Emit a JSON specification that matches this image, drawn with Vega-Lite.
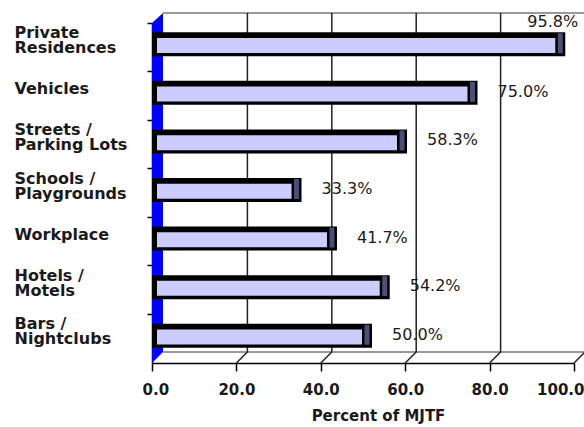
{
  "$schema": "https://vega.github.io/schema/vega-lite/v6.json",
  "width": 432,
  "height": 350,
  "autosize": "none",
  "padding": {"left": 152, "top": 13, "right": 0, "bottom": 64},
  "background": "white",
  "config": {
    "view": {"stroke": null},
    "font": "DejaVu Sans",
    "axisX": {
      "format": ".1f",
      "grid": false,
      "labelFont": "DejaVu Sans",
      "labelFontWeight": "bold",
      "labelFontSize": 15,
      "labelColor": "#1a1a1a",
      "labelPadding": 11,
      "labelFlush": true,
      "labelFlushOffset": 10,
      "tickSize": 8,
      "tickColor": "#000",
      "tickWidth": 1.5,
      "domainColor": "#000",
      "domainWidth": 1.5,
      "titleFont": "DejaVu Sans",
      "titleFontWeight": "bold",
      "titleFontSize": 15,
      "titleColor": "#1a1a1a",
      "titleX": 226,
      "titleY": 52,
      "titleBaseline": "middle",
      "zindex": 1
    },
    "axisY": {
      "title": null,
      "labelAlign": "left",
      "labelBaseline": "middle",
      "labelPadding": 133,
      "labelLimit": 0,
      "tickSize": 5,
      "tickColor": "#000",
      "tickWidth": 1.5,
      "domainColor": "#000",
      "domainWidth": 1.5,
      "bandPosition": 0,
      "labelFont": "DejaVu Sans",
      "labelFontWeight": "bold",
      "labelFontSize": 16,
      "labelLineHeight": 15,
      "labelColor": "#1a1a1a",
      "zindex": 1
    }
  },
  "datasets": {
    "bars": [
      {"place": "Private Residences", "value": 95.8, "label": "95.8%"},
      {"place": "Vehicles", "value": 75.0, "label": "75.0%"},
      {"place": "Streets / Parking Lots", "value": 58.3, "label": "58.3%"},
      {"place": "Schools / Playgrounds", "value": 33.3, "label": "33.3%"},
      {"place": "Workplace", "value": 41.7, "label": "41.7%"},
      {"place": "Hotels / Motels", "value": 54.2, "label": "54.2%"},
      {"place": "Bars / Nightclubs", "value": 50.0, "label": "50.0%"}
    ],
    "grid": [{"v": 0}, {"v": 20}, {"v": 40}, {"v": 60}, {"v": 80}, {"v": 100}]
  },
  "layer": [
    {
      "data": {"name": "grid"},
      "transform": [{"filter": "datum.v == 0"}],
      "mark": {"type": "point", "shape": "M0.0629,-1L2.5,-1M0.0629,0.9371L2.5,0.9371", "size": 122500, "filled": false, "color": "#999999", "strokeWidth": 2, "opacity": 1},
      "encoding": {"x": {"field": "v", "type": "quantitative", "title": "Percent of MJTF", "scale": {"domain": [0, 100], "range": [0, 422]}, "axis": {"values": [0, 20, 40, 60, 80, 100]}}}
    },
    {
      "data": {"name": "grid"},
      "transform": [{"filter": "datum.v > 0"}],
      "mark": {"type": "point", "shape": "M0,1L0.0629,0.9371L0.0629,-1", "size": 122500, "filled": false, "color": "#222222", "strokeWidth": 1.5, "opacity": 1},
      "encoding": {"x": {"field": "v", "type": "quantitative", "title": "Percent of MJTF", "axis": {"values": [0, 20, 40, 60, 80, 100]}}}
    },
    {
      "data": {"name": "grid"},
      "transform": [{"filter": "datum.v == 0"}],
      "mark": {"type": "point", "shape": "M0,-0.9429L0.0629,-1L0.0629,0.9371L0,1Z", "size": 122500, "filled": true, "color": "#0000ff", "opacity": 1},
      "encoding": {"x": {"field": "v", "type": "quantitative", "title": "Percent of MJTF", "axis": {"values": [0, 20, 40, 60, 80, 100]}}}
    },
    {
      "data": {"name": "bars"},
      "mark": {"type": "bar", "color": "#000000", "height": 24, "yOffset": -3, "xOffset": 9},
      "encoding": {
        "x": {"field": "value", "type": "quantitative", "title": "Percent of MJTF", "axis": {"values": [0, 20, 40, 60, 80, 100]}},
        "x2": {"datum": 0},
        "y": {
          "field": "place", "type": "nominal", "sort": null,
          "scale": {"range": [10, 350], "paddingInner": 0, "paddingOuter": 0},
          "axis": {
            "labelExpr": "indexof(datum.label,' / ')>0 ? [slice(datum.label,0,indexof(datum.label,' / ')+2), slice(datum.label,indexof(datum.label,' / ')+3)] : split(datum.label,' ')",
            "labelOffset": {"condition": {"test": "indexof(datum.label,' ')>0", "value": -14.5}, "value": -7}
          }
        }
      }
    },
    {
      "data": {"name": "bars"},
      "mark": {"type": "bar", "color": "#ccccff", "height": 15, "yOffset": -1.8, "xOffset": -1, "x2Offset": 5},
      "encoding": {
        "x": {"field": "value", "type": "quantitative", "title": "Percent of MJTF", "axis": {"values": [0, 20, 40, 60, 80, 100]}},
        "x2": {"datum": 0},
        "y": {"field": "place", "type": "nominal", "sort": null}
      }
    },
    {
      "data": {"name": "bars"},
      "mark": {"type": "tick", "color": "#4d4d78", "orient": "vertical", "thickness": 5, "size": 20, "xOffset": 4, "yOffset": -4, "opacity": 1},
      "encoding": {
        "x": {"field": "value", "type": "quantitative", "title": "Percent of MJTF", "axis": {"values": [0, 20, 40, 60, 80, 100]}},
        "y": {"field": "place", "type": "nominal", "sort": null}
      }
    },
    {
      "data": {"name": "bars"},
      "transform": [{"filter": "datum.value <= 90"}],
      "mark": {"type": "text", "align": "left", "baseline": "middle", "dx": 29, "dy": -4, "font": "DejaVu Sans", "fontSize": 16, "color": "#1a1a1a"},
      "encoding": {
        "x": {"field": "value", "type": "quantitative", "title": "Percent of MJTF", "axis": {"values": [0, 20, 40, 60, 80, 100]}},
        "y": {"field": "place", "type": "nominal", "sort": null},
        "text": {"field": "label"}
      }
    },
    {
      "data": {"name": "bars"},
      "transform": [{"filter": "datum.value > 90"}],
      "mark": {"type": "text", "align": "left", "baseline": "middle", "dx": -29, "dy": -25, "font": "DejaVu Sans", "fontSize": 16, "color": "#1a1a1a"},
      "encoding": {
        "x": {"field": "value", "type": "quantitative", "title": "Percent of MJTF", "axis": {"values": [0, 20, 40, 60, 80, 100]}},
        "y": {"field": "place", "type": "nominal", "sort": null},
        "text": {"field": "label"}
      }
    }
  ]
}
